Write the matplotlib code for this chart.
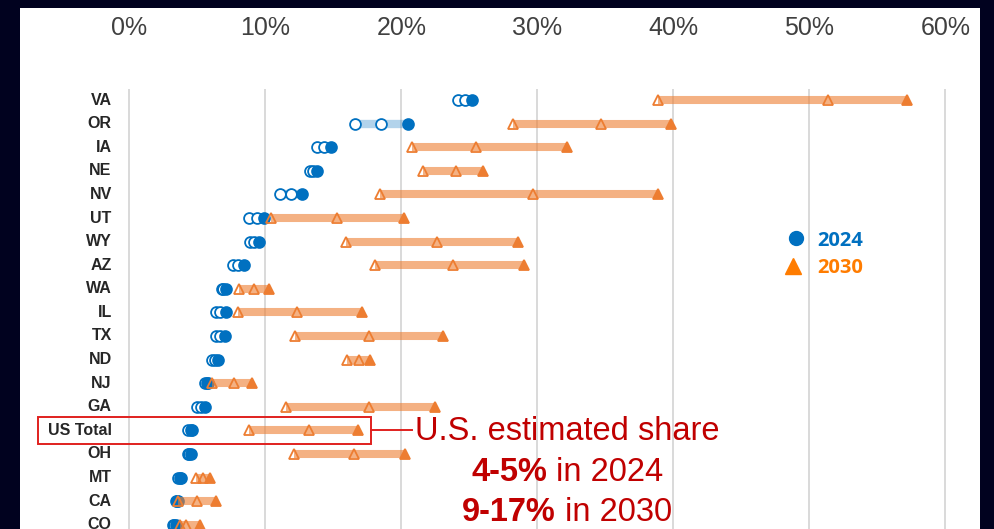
import matplotlib
matplotlib.use("Agg")
import matplotlib.pyplot as plt
import numpy as np

# estimated share by state, three scenarios per year (low / mid / high), in %
states = ['VA', 'OR', 'IA', 'NE', 'NV', 'UT', 'WY', 'AZ', 'WA', 'IL',
          'TX', 'ND', 'NJ', 'GA', 'US Total', 'OH', 'MT', 'CA', 'CO']
low_2024 = [24.2, 16.6, 13.8, 13.3, 11.1, 8.8, 8.9, 7.6, 6.8, 6.4,
            6.4, 6.1, 5.6, 5.0, 4.3, 4.3, 3.6, 3.4, 3.2]
mid_2024 = [24.7, 18.5, 14.3, 13.5, 11.9, 9.4, 9.2, 8.0, 6.9, 6.7,
            6.7, 6.3, 5.7, 5.3, 4.5, 4.4, 3.7, 3.5, 3.3]
high_2024 = [25.2, 20.5, 14.8, 13.8, 12.7, 9.9, 9.5, 8.4, 7.1, 7.1,
             7.0, 6.5, 5.8, 5.6, 4.6, 4.5, 3.8, 3.6, 3.4]
low_2030 = [38.9, 28.2, 20.8, 21.6, 18.4, 10.4, 15.9, 18.1, 8.1, 8.0,
            12.2, 16.0, 6.1, 11.5, 8.8, 12.1, 4.9, 3.6, 3.7]
mid_2030 = [51.4, 34.7, 25.5, 24.0, 29.7, 15.3, 22.6, 23.8, 9.2, 12.3,
            17.6, 16.9, 7.7, 17.6, 13.2, 16.5, 5.4, 5.0, 4.2]
high_2030 = [57.2, 39.8, 32.2, 26.0, 38.9, 20.2, 28.6, 29.0, 10.3, 17.1,
             23.1, 17.7, 9.0, 22.5, 16.8, 20.3, 5.9, 6.4, 5.2]
x_ticks = [0, 10, 20, 30, 40, 50, 60]

BLUE = '#0070C0'
ORANGE = '#ED7D31'
RED = '#C00000'
BG = '#01021F'

plt.rcParams['font.family'] = ['Liberation Sans', 'DejaVu Sans']

fig = plt.figure(figsize=(9.94, 5.29), dpi=100, facecolor=BG)
ax = fig.add_axes([20 / 994, 0, 960 / 994, 521 / 529])
ax.set_facecolor('white')
for s in ax.spines.values():
    s.set_visible(False)
ax.set_xticks([])
ax.set_yticks([])
ax.set_xlim(-8.04, 62.55)
ax.set_ylim(18.18, -3.9)

y = np.arange(len(states))

# light vertical gridlines
ax.vlines(x_ticks, -0.45, 18.5, color='#D9D9D9', lw=1.4, zorder=0)
for v in x_ticks:
    ax.text(v, -3.05, f'{v}%', ha='center', va='center', fontsize=18,
            color='#404040')

for i, name in enumerate(states):
    ax.text(-1.3, i, name, ha='right', va='center', fontsize=11.5,
            fontweight='bold', color='#262626')

# 2024 range band + markers
ax.hlines(y, low_2024, high_2024, color=BLUE, alpha=0.3, lw=6, zorder=1)
ax.plot(low_2024, y, 'o', ms=7.8, mfc='white', mec=BLUE, mew=1.3, ls='none', zorder=2)
ax.plot(mid_2024, y, 'o', ms=7.8, mfc='white', mec=BLUE, mew=1.3, ls='none', zorder=2)
ax.plot(high_2024, y, 'o', ms=7.8, mfc=BLUE, mec=BLUE, mew=1.3, ls='none', zorder=2)

# 2030 range band + markers
ax.hlines(y, low_2030, high_2030, color=ORANGE, alpha=0.6, lw=5.8, zorder=3)
ax.plot(low_2030, y, '^', ms=7.5, mfc='none', mec=ORANGE, mew=1.3, ls='none', zorder=4)
ax.plot(mid_2030, y, '^', ms=7.5, mfc='none', mec=ORANGE, mew=1.3, ls='none', zorder=4)
ax.plot(high_2030, y, '^', ms=7.5, mfc=ORANGE, mec=ORANGE, mew=1.3, ls='none', zorder=4)

# legend
ax.plot(49.0, 5.85, 'o', ms=10, color=BLUE, clip_on=False)
ax.plot(48.8, 7.03, '^', ms=11, color='#FF7C00', clip_on=False)
ax.text(50.6, 5.98, '2024', ha='left', va='center', fontsize=14.5,
        fontweight='bold', color=BLUE, family=['Open Sans', 'DejaVu Sans'])
ax.text(50.6, 7.1, '2030', ha='left', va='center', fontsize=14.5,
        fontweight='bold', color='#FF7C00', family=['Open Sans', 'DejaVu Sans'])

# US total callout
us = states.index('US Total')
ax.add_patch(plt.Rectangle((-6.7, us - 0.57), 24.45, 1.15, fill=False,
                           ec='#E0201E', lw=1.4, zorder=5))
ax.plot([17.75, 20.8], [us, us], color='#E0201E', lw=1.4, zorder=5)
ax.text(21.0, us + 0.03, 'U.S. estimated share', ha='left', va='center',
        fontsize=23.5, color=RED)

fig.canvas.draw()
renderer = fig.canvas.get_renderer()


def two_part(xc, yc, bold, rest):
    t1 = ax.text(0, yc, bold, ha='left', va='center', fontsize=23.5,
                 fontweight='bold', color=RED)
    t2 = ax.text(0, yc, rest, ha='left', va='center', fontsize=23.5,
                 color=RED)
    w1 = t1.get_window_extent(renderer).width
    w2 = t2.get_window_extent(renderer).width
    px = ax.transData.transform((xc, yc))
    inv = ax.transData.inverted()
    left = px[0] - (w1 + w2) / 2
    t1.set_x(inv.transform((left, px[1]))[0])
    t2.set_x(inv.transform((left + w1, px[1]))[0])


two_part(32.2, 15.8, '4-5%', ' in 2024')
two_part(32.2, 17.46, '9-17%', ' in 2030')

fig.savefig('out.png', dpi=100, facecolor=BG)
